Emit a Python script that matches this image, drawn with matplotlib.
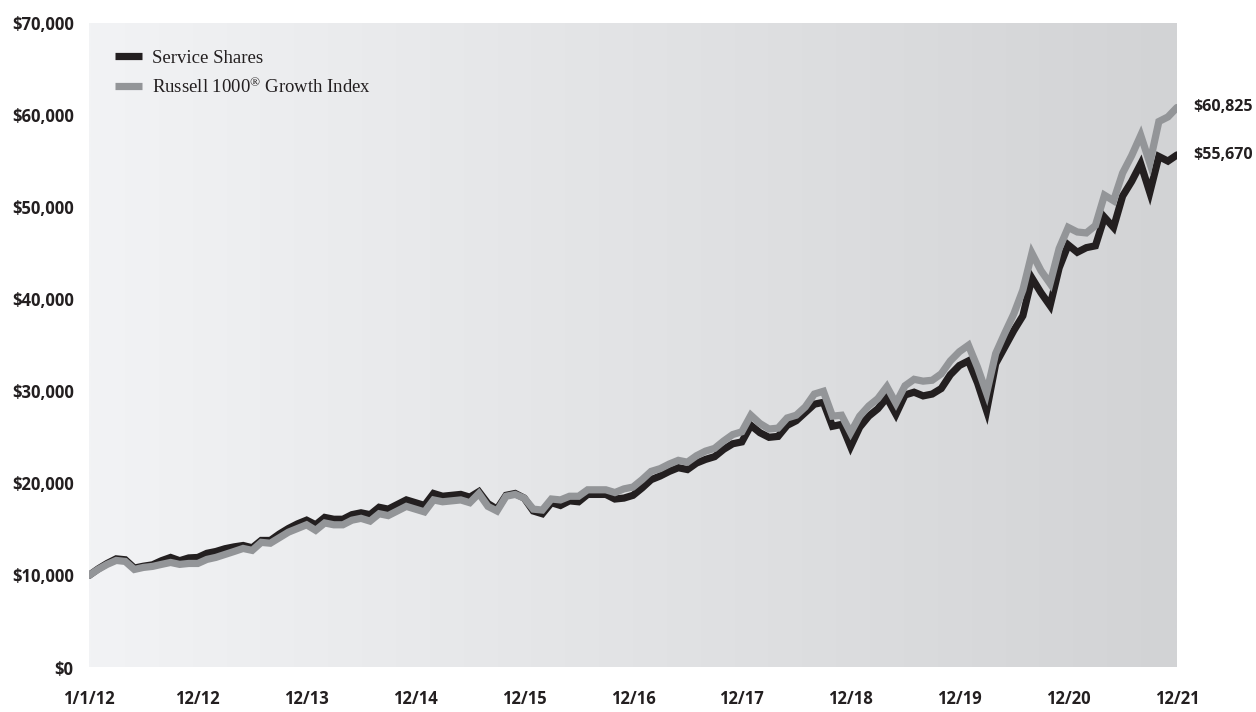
import numpy as np
import matplotlib
matplotlib.use("Agg")
import matplotlib.pyplot as plt
from matplotlib.ticker import FuncFormatter, FixedLocator

# Growth of a hypothetical $10,000 investment, month-end values 1/1/12 - 12/31/21
service_shares = [
    10000, 10700, 11300, 11800, 11700, 10800, 11000, 11150, 11600, 11950,
    11600, 11900, 11950, 12400, 12600, 12900, 13100, 13250, 13000, 13800,
    13800, 14500, 15100, 15600, 16000, 15500, 16300, 16100, 16100, 16600,
    16800, 16600, 17400, 17200, 17700, 18200, 17900, 17600, 18900, 18600,
    18700, 18800, 18500, 19100, 17800, 17200, 18700, 18900, 18400, 17000,
    16700, 17900, 17600, 18100, 18000, 18800, 18800, 18800, 18300, 18400,
    18700, 19500, 20400, 20800, 21300, 21700, 21500, 22200, 22600, 22900,
    23700, 24300, 24500, 26300, 25500, 25000, 25100, 26300, 26800, 27700,
    28600, 28800, 26200, 26400, 24000, 26100, 27300, 28100, 29300, 27500,
    29600, 29900, 29500, 29700, 30300, 31800, 32800, 33300, 30900, 27900,
    33000, 34800, 36600, 38200, 42300, 40700, 39300, 43400, 45900, 45100,
    45600, 45800, 48900, 47800, 51200, 52800, 54700, 51600, 55500, 55000,
    55670,
]
russell_1000_growth = [
    10000, 10650, 11200, 11630, 11520, 10650, 10870, 10980, 11200, 11410,
    11200, 11300, 11300, 11740, 11960, 12280, 12600, 12930, 12720, 13590,
    13500, 14100, 14700, 15100, 15500, 14900, 15700, 15500, 15500, 16000,
    16200, 15900, 16700, 16500, 17000, 17500, 17200, 16900, 18200, 18000,
    18100, 18200, 17900, 18900, 17500, 17000, 18600, 18800, 18400, 17200,
    17100, 18300, 18200, 18600, 18600, 19300, 19300, 19300, 19000, 19400,
    19600, 20400, 21300, 21600, 22100, 22500, 22300, 23000, 23500, 23800,
    24600, 25300, 25600, 27400, 26500, 25900, 26000, 27100, 27400, 28300,
    29700, 30000, 27300, 27400, 25500, 27300, 28400, 29200, 30500, 28700,
    30600, 31300, 31100, 31200, 31900, 33300, 34300, 35000, 32600, 29800,
    34100, 36300, 38400, 41000, 45000, 43100, 41700, 45500, 47800, 47300,
    47200, 48000, 51300, 50700, 53700, 55600, 57800, 54800, 59300, 59800,
    60825,
]
x_tick_months = [0, 12, 24, 36, 48, 60, 72, 84, 96, 108, 120]
x_tick_labels = ["1/1/12", "12/12", "12/13", "12/14", "12/15", "12/16",
                 "12/17", "12/18", "12/19", "12/20", "12/21"]
y_ticks = [0, 10000, 20000, 30000, 40000, 50000, 60000, 70000]

series_names = ["Service Shares", "Russell 1000$^{\u00ae}$ Growth Index"]
series_colors = ["#231f20", "#939598"]

plt.rcParams["mathtext.fontset"] = "custom"
plt.rcParams["mathtext.rm"] = "Liberation Serif"
plt.rcParams["mathtext.it"] = "Liberation Serif"
plt.rcParams["mathtext.bf"] = "Liberation Serif"

W, H = 1256, 712
fig = plt.figure(figsize=(W / 100, H / 100), dpi=100)
fig.patch.set_facecolor("white")
ax = fig.add_axes([89 / W, (H - 667.5) / H, (1177 - 89) / W, (667.5 - 23) / H])

# horizontal light-to-dark grey backdrop
grad = np.linspace(0, 1, 256)[None, :]
c0 = np.array([242, 243, 245]) / 255
c1 = np.array([210, 211, 213]) / 255
img = c0[None, None, :] * (1 - grad[..., None]) + c1[None, None, :] * grad[..., None]
ax.imshow(img, extent=[0, 1, 0, 1], transform=ax.transAxes, aspect="auto",
          zorder=0, interpolation="bilinear")

months = np.arange(len(service_shares))
lw = 5.2
l1, = ax.plot(months, service_shares, color=series_colors[0], lw=lw,
              solid_capstyle="round", solid_joinstyle="miter", zorder=2,
              label=series_names[0])
l2, = ax.plot(months, russell_1000_growth, color=series_colors[1], lw=lw,
              solid_capstyle="round", solid_joinstyle="miter", zorder=3,
              label=series_names[1])

ax.set_xlim(0, 120)
ax.set_ylim(0, 70000)
for s in ax.spines.values():
    s.set_visible(False)

tick_font = dict(family="Open Sans", weight="bold", size=12, color="#231f20")
ax.yaxis.set_major_locator(FixedLocator(y_ticks))
ax.yaxis.set_major_formatter(FuncFormatter(lambda v, p: "$" + f"{int(v):,}"))
ax.xaxis.set_major_locator(FixedLocator(x_tick_months))
ax.set_xticklabels(x_tick_labels)
ax.tick_params(axis="both", length=0)
ax.tick_params(axis="y", pad=11)
ax.tick_params(axis="x", pad=16)
for lab in ax.get_yticklabels() + ax.get_xticklabels():
    lab.set_fontfamily(tick_font["family"])
    lab.set_fontweight(tick_font["weight"])
    lab.set_fontsize(tick_font["size"])
    lab.set_color(tick_font["color"])

leg = ax.legend(handles=[l1, l2], loc="upper left", bbox_to_anchor=(0.017, 0.97),
                frameon=False, handlelength=1.45, handletextpad=0.55,
                labelspacing=0.55, borderaxespad=0,
                prop=dict(family="Liberation Serif", size=13.5))
for h in leg.legend_handles:
    h.set_solid_capstyle("butt")
for t in leg.get_texts():
    t.set_color("#231f20")

# ending values
for vals in (russell_1000_growth, service_shares):
    ax.annotate("$" + f"{vals[-1]:,}", xy=(months[-1], vals[-1]),
                xytext=(11.5, 0), textcoords="offset points",
                ha="left", va="center", annotation_clip=False,
                fontfamily="Open Sans", fontweight="bold", fontsize=11.5,
                color="#231f20")

fig.savefig("out.png", dpi=100, facecolor="white")
